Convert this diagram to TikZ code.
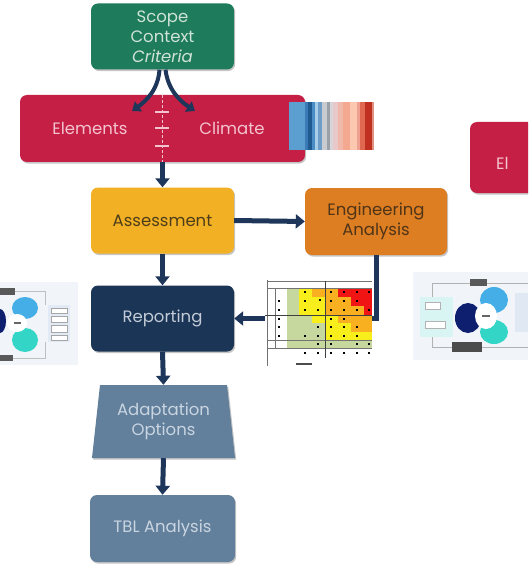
\documentclass[tikz,border=0pt]{standalone}
\usepackage{fontspec}
\setmainfont{Poppins}
\usetikzlibrary{arrows.meta,shadows}
\definecolor{cgreen}{HTML}{1E7B5C}
\definecolor{tgreen}{HTML}{CFE3D8}
\definecolor{cred}{HTML}{C51F45}
\definecolor{tred}{HTML}{F3C4CF}
\definecolor{cyellow}{HTML}{F2B124}
\definecolor{tyellow}{HTML}{4D3D1A}
\definecolor{corange}{HTML}{DD7E22}
\definecolor{torange}{HTML}{4F3418}
\definecolor{cnavy}{HTML}{1B3556}
\definecolor{tnavy}{HTML}{C3CBD6}
\definecolor{cslate}{HTML}{627F9B}
\definecolor{tslate}{HTML}{C9D5E1}
\definecolor{arrowc}{HTML}{1D3659}
\definecolor{mG}{HTML}{C6D89E}
\definecolor{mY}{HTML}{F7EE1C}
\definecolor{mO}{HTML}{F8B020}
\definecolor{mR}{HTML}{F01414}
\definecolor{thumbbg}{HTML}{F1F5FA}
\definecolor{petalblue}{HTML}{45AEE6}
\definecolor{petalteal}{HTML}{33D6C6}
\definecolor{lensnavy}{HTML}{0D1F6E}
\definecolor{panelA}{HTML}{E2EAF5}
\definecolor{panelB}{HTML}{D8F5F3}
\definecolor{panelC}{HTML}{E0E8F4}
\begin{document}
\begin{tikzpicture}[x=1pt,y=-1pt,
  box/.style={rounded corners=7pt, minimum width=143pt, minimum height=66pt,
    inner sep=0pt, align=center, font=\fontsize{16.5}{20}\selectfont,
    drop shadow={shadow xshift=1.2pt, shadow yshift=-1.6pt, opacity=.45}},
  lbl/.style={inner sep=0pt, align=center, font=\fontsize{16.5}{20}\selectfont},
  conn/.style={draw=arrowc, line width=5pt, -{Triangle[length=9pt,width=14pt]}},
  conn2/.style={draw=arrowc, line width=4pt, -{Triangle[length=8pt,width=12pt]}},
  mline/.style={draw=black!55, line width=0.4pt},
  mthick/.style={draw=black!75, line width=1pt},
  dotm/.style={fill=black}
]
\clip (0,0) rectangle (528,564);
\fill[white] (0,0) rectangle (528,564);

% ---- main boxes
\node[box, fill=cgreen, text=tgreen] (scope) at (162.5,36.5) {Scope\\Context\\\textit{Criteria}};
\node[box, fill=cred, minimum width=285pt, minimum height=67pt] (elem) at (162.5,128.5) {};
\node[lbl, text=tred] (elements) at (90,128) {Elements};
\node[lbl, text=tred] (climate) at (232,128) {Climate};
\node[box, fill=cred, minimum width=110pt, minimum height=71pt] (elem2) at (525,157.5) {};
\node[lbl, text=tred, anchor=west] (elem2t) at (496,163) {El};

% climate stripes
\foreach \a/\b/\c in {289/305/5B9FD0, 305/308/3A7AB5, 308/312/1F5A90, 312/315/4A8CC4,
  315/318/A8CDE8, 318/322/6E9EC8, 322/327/C8CCD0, 327/330/9AA0A8, 330/333/D9D4D8,
  333/338/E8C8C8, 338/343/F0B8A8, 343/350/F5A890, 350/357/FCC8B0, 357/360/F0A090,
  360/365/E06850, 365/372/C03020, 372/374/E09080}{
  \definecolor{stc}{HTML}{\c}
  \fill[stc] (\a,102) rectangle (\b,150);
}

\node[box, fill=cyellow, text=tyellow] (assess) at (162.5,220.5) {Assessment};
\node[box, fill=corange, text=torange, minimum width=142pt, minimum height=67pt] (eng) at (376,221.5) {Engineering\\Analysis};
\node[box, fill=cnavy, text=tnavy] (report) at (162.5,318.5) {Reporting};
\path[fill=cslate, drop shadow={shadow xshift=1.2pt, shadow yshift=-1.6pt, opacity=.45}]
  (100,385) -- (227,385) -- (235,458) -- (92,458) -- cycle;
\node[lbl, text=tslate, minimum width=143pt, minimum height=73pt] (adapt) at (163.5,421.5) {Adaptation\\Options};
\node[box, fill=cslate, text=tslate, minimum width=145pt, minimum height=67pt] (tbl) at (162.5,528.5) {TBL Analysis};

% ---- scope arrows and the link line
\coordinate (sl) at (132,111);
\coordinate (sr) at (195,111);
\draw[conn2] ([xshift=-3pt]scope.south) .. controls (158,90) and (146,101) .. (sl);
\draw[conn2] ([xshift=3pt]scope.south) .. controls (168,90) and (180,101) .. (sr);
\draw[draw=tred, line width=1.2pt, dash pattern=on 3pt off 2pt] (elem.north) -- (elem.south);
\foreach \yy in {112,128,146}{ \draw[draw=tred, line width=1.2pt] (155,\yy) -- (169,\yy); }

% ---- connectors
\draw[conn] (elem.south) -- (assess.north);
\draw[conn] (assess.east) -- (eng.west);
\draw[conn] (assess.south) -- (report.north);
\draw[conn] (eng.south) |- (report.east);
\draw[conn] (report.south) -- (adapt.north);
\draw[conn] (adapt.south) -- (tbl.north);

% ---- risk matrix
\fill[white] (265,278) rectangle (372,366);
\foreach \r/\ya/\yb/\row in {1/288/297/{G,Y,O,O,R,R,R}, 2/297/306/{G,Y,Y,O,O,R,R},
   3/306/315/{G,Y,Y,O,O,O,R}, 4/315/323/{G,G,Y,Y,O,O,O}, 5/323/332/{G,G,G,Y,Y,O,O},
   6/332/340/{G,G,G,Y,Y,Y,Y}, 7/340/348/{G,G,G,G,G,G,G}}{
  \foreach \cc [count=\i] in \row {
    \pgfmathsetmacro{\xa}{{287,299,312,325,338,351,364,372}[\i-1]}
    \pgfmathsetmacro{\xb}{{287,299,312,325,338,351,364,372}[\i]}
    \fill[m\cc] (\xa,\ya) rectangle (\xb,\yb);
  }
}
\draw[mline] (267,280) -- (267,366);
\draw[mline] (267,281) -- (372,281);
\draw[mline] (275,288) -- (275,348);
\draw[mline] (267,288) -- (372,288);
\draw[mline] (267,340) -- (372,340);
\draw[mline] (267,348) -- (372,348);
\draw[mthick] (265,315) -- (372,315);
\draw[mthick] (325,281) -- (325,358);
\foreach \px/\py in {305/292, 320/300, 305/301, 305/310, 318/310, 331/292, 344/292, 357/292, 369/292,
  331/301, 344/301, 357/301, 331/310, 344/310, 357/310, 369/310, 279/301, 279/310,
  279/319, 279/327, 279/336, 318/327, 331/319, 344/319, 331/327, 344/327, 357/327,
  344/336, 331/336, 357/336, 318/336, 305/336, 318/344, 331/344, 357/344, 369/344,
  305/353, 318/353, 331/353, 344/353, 357/353, 369/353}{
  \fill[dotm] (\px-1,\py-1) rectangle (\px+1,\py+1);
}
\fill[black!70] (296,363) rectangle (312,365);

% ---- left thumbnail
\fill[thumbbg] (0,282) rectangle (78,365);
\draw[black!25, line width=0.4pt] (15,291) -- (45,291) -- (45,305);
\draw[black!25, line width=0.4pt] (13,358) -- (45,358) -- (45,342);
\fill[black!65] (0,288) rectangle (15,295);
\fill[black!65] (0,355) rectangle (13,361);
\fill[petalblue] (25,308) ellipse (13 and 11);
\fill[petalteal] (25,340) ellipse (13 and 12);
\fill[lensnavy] (0,321) ellipse (6 and 12);
\fill[white] (17,323) ellipse (10 and 9);
\fill[black!60] (14,322) rectangle (21,323.5);
\fill[panelA] (48,305) rectangle (70,342);
\foreach \ya/\yb in {308/313, 316/322, 325/332, 335/340}{
  \draw[black!35, fill=white, line width=0.3pt] (51,\ya) rectangle (67,\yb);
}

% ---- right thumbnail
\fill[thumbbg] (413,272) rectangle (528,360);
\draw[black!30, line width=0.4pt] (470,283) -- (432,283) -- (432,347) -- (452,347);
\draw[black!30, line width=0.4pt] (487,283) -- (528,283);
\draw[black!30, line width=0.4pt] (482,347) -- (528,347);
\fill[panelB] (420,297) rectangle (453,337);
\draw[black!30, fill=white, line width=0.3pt] (425,302) rectangle (440,309);
\draw[black!30, fill=white, line width=0.3pt] (425,321) rectangle (445,328);
\fill[panelC] (515,293) rectangle (528,332);
\fill[black!65] (470,279) rectangle (487,286);
\fill[black!70] (452,342) rectangle (482,352);
\fill[petalblue] (494,300) ellipse (14 and 13);
\fill[petalteal] (494,332) ellipse (14 and 12);
\fill[lensnavy] (468,318) ellipse (13 and 15);
\fill[white] (486,316) ellipse (11 and 13);
\fill[black!60] (482,315) rectangle (490,316.5);
\end{tikzpicture}
\end{document}
